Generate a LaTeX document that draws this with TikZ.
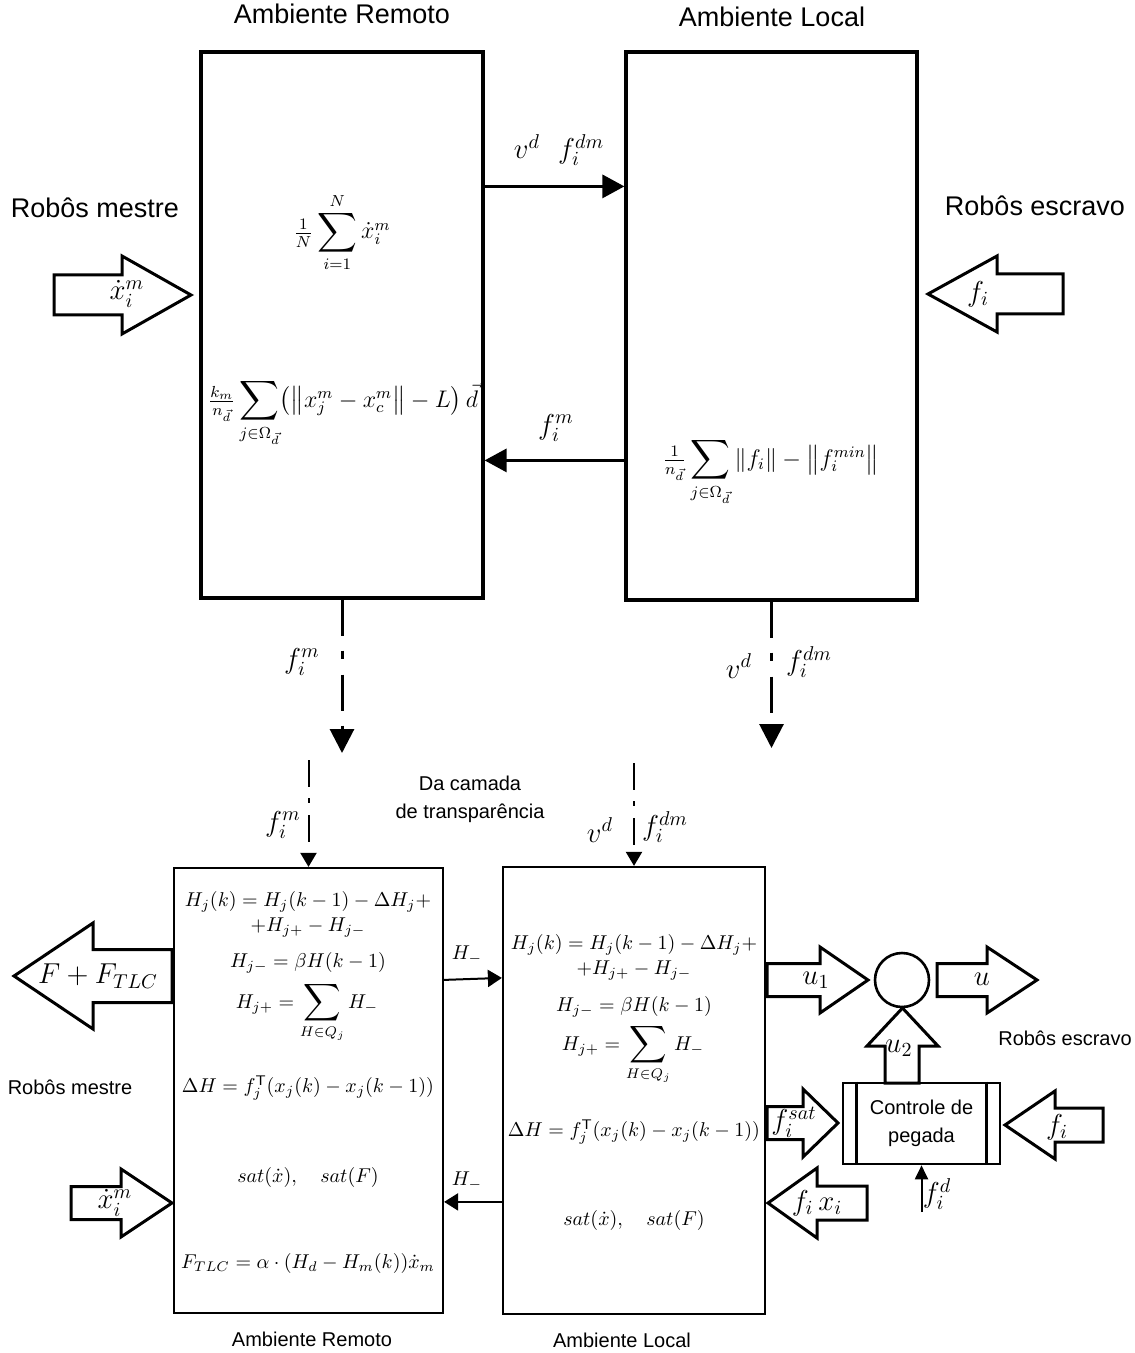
\documentclass[tikz,border=0pt]{standalone}
\usepackage[no-math]{fontspec}
\newfontfamily\arial{Liberation Sans}
\usepackage{amsmath}
\usepackage{graphicx}
\usetikzlibrary{arrows.meta,calc,fit}
\newcommand{\Bsum}{\mathop{\vcenter{\hbox{\scalebox{1.3}{$\displaystyle\sum$}}}}\limits}
\newcommand{\Tsum}{\mathop{\vcenter{\hbox{\scalebox{1.15}{$\displaystyle\sum$}}}}\limits}
\newcommand{\myblockarrow}[6]{\draw[blockar] ({#1},{#4-#5}) -- ({#2},{#4-#5}) -- ({#2},{#4-#6}) -- ({#3},{#4}) -- ({#2},{#4+#6}) -- ({#2},{#4+#5}) -- ({#1},{#4+#5}) -- cycle;}
\begin{document}
\begin{tikzpicture}[x=0.5pt,y=-0.5pt,
  topbox/.style={draw, line width=1.6pt, inner sep=0pt},
  botbox/.style={draw, line width=1.1pt, inner sep=0pt},
  bigtxt/.style={font=\arial\fontsize{13.5}{16}\selectfont, inner sep=0pt},
  smalltxt/.style={font=\arial\fontsize{10}{14}\selectfont, align=center, inner sep=0pt},
  mbig/.style={font=\fontsize{14.5}{17}\selectfont, inner sep=0pt},
  mlab/.style={font=\fontsize{14}{17}\selectfont, inner sep=0pt},
  mform/.style={font=\fontsize{10}{12.5}\selectfont, inner sep=0pt, align=center},
  mtop/.style={font=\fontsize{11.5}{14}\selectfont, inner sep=0pt, align=center},
  flowtop/.style={line width=1.6pt},
  flowbot/.style={line width=1pt},
  bigtip/.style={-{Triangle[length=11pt,width=11.5pt]}},
  smalltip/.style={-{Triangle[length=7pt,width=8.5pt]}},
  ddtop/.style={line width=1.5pt, dash pattern=on 18pt off 7.5pt on 4pt off 8pt, -{Triangle[length=12pt,width=12pt]}},
  ddbot/.style={line width=1pt, dash pattern=on 13.5pt off 5.5pt on 2.5pt off 6pt, -{Triangle[length=7pt,width=8pt]}},
  blockar/.style={draw, line width=1.5pt, line join=miter, fill=white},
]
\useasboundingbox (0,0) rectangle (1134,1353);

% ---------- top part ----------
\node[bigtxt] (tAR) at (342,14) {Ambiente Remoto};
\node[bigtxt] (tAL) at (772,17) {Ambiente Local};
\node[bigtxt] (tRM) at (95,208) {Robôs mestre};
\node[bigtxt] (tRE) at (1035,206) {Robôs escravo};

\node[topbox, fit={(201,52) (483,598)}] (tl) {};
\node[topbox, fit={(626,52) (917,600)}] (tr) {};

\node[mtop, anchor=base] (f1) at (342,239) {$\tfrac{1}{N}\Tsum_{i=1}^{N}\dot x_i^m$};
\node[mtop, anchor=base] (f2) at (343,407) {$\tfrac{k_m}{n_{\vec d}}\Tsum_{j\in\Omega_{\vec d}}\bigl(\bigl\|x_j^m - x_c^m\bigr\| - L\bigr)\,\vec d$};
\node[mtop, anchor=base] (f3) at (771,466) {$\tfrac{1}{n_{\vec d}}\Tsum_{j\in\Omega_{\vec d}}\|f_i\| - \bigl\|f_i^{min}\bigr\|$};

\draw[flowtop, bigtip] ($(tl.north east)+(0,136)$) -- ($(tr.north west)+(0,136)$);
\node[mlab] (l1) at (559,150) {$v^d\ \ f_i^{dm}$};
\draw[flowtop, bigtip] ($(tr.north west)+(0,410)$) -- ($(tl.north east)+(0,410)$);
\node[mlab] (l2) at (556,428) {$f_i^m$};

\myblockarrow{54}{122}{191}{295}{20}{39}
\node[mbig] (lx1) at (127,294) {$\dot x_i^m$};
\myblockarrow{1063}{997}{928}{294}{20}{38}
\node[mbig] (lf1) at (978,294) {$f_i$};

% ---------- transparency layer ----------
\coordinate (e1) at (342,753);
\coordinate (e2) at (771.5,748);
\draw[ddtop] (tl.south) -- (e1);
\draw[ddtop] (tr.south) -- (e2);
\node[mlab] (l3) at (302,662) {$f_i^m$};
\node[mlab] (l4) at (739,666) {$v^d$};
\node[mlab] (l5) at (809,662) {$f_i^{dm}$};

\node[smalltxt] (da) at (470,799) {Da camada\\de transparência};

% ---------- bottom part ----------
\node[botbox, fit={(174,868) (443,1313)}] (bl) {};
\node[botbox, fit={(503,867) (765,1314)}] (bm) {};

\coordinate (s1) at (308.5,760);
\coordinate (s2) at (634,763);
\draw[ddbot] (s1) -- (bl.north);
\draw[ddbot] (s2) -- (bm.north);
\node[mlab] (l6) at (283,825) {$f_i^m$};
\node[mlab] (l7) at (600,830) {$v^d$};
\node[mlab] (l8) at (665,827) {$f_i^{dm}$};

% left box formulas
\node[mform] (a1) at (308,914) {$H_j(k) = H_j(k-1) - \Delta H_j +$\\$+H_{j+} - H_{j-}$};
\node[mform] (a2) at (308,963) {$H_{j-} = \beta H(k-1)$};
\node[mform, anchor=base] (a3) at (307,1008) {$H_{j+} = \Bsum_{H\in Q_j} H_-$};
\node[mform] (a4) at (308,1088) {$\Delta H = f_j^{\mathsf{T}}(x_j(k) - x_j(k-1))$};
\node[mform] (a5) at (308,1177) {$sat(\dot x),\quad sat(F)$};
\node[mform] (a6) at (308,1263) {$F_{TLC} = \alpha\cdot(H_d - H_m(k))\dot x_m$};

% middle box formulas
\node[mform] (b1) at (634,957) {$H_j(k) = H_j(k-1) - \Delta H_j +$\\$+H_{j+} - H_{j-}$};
\node[mform] (b2) at (634,1007) {$H_{j-} = \beta H(k-1)$};
\node[mform, anchor=base] (b3) at (633,1050) {$H_{j+} = \Bsum_{H\in Q_j} H_-$};
\node[mform] (b4) at (634,1132) {$\Delta H = f_j^{\mathsf{T}}(x_j(k) - x_j(k-1))$};
\node[mform] (b5) at (634,1220) {$sat(\dot x),\quad sat(F)$};

\draw[flowbot, smalltip] ($(bl.north east)+(0,113)$) -- ($(bm.north west)+(0,112)$);
\node[mform] (h1) at (467,955) {$H_-$};
\draw[flowbot, smalltip] ($(bm.north west)+(0,336)$) -- ($(bl.north east)+(0,335)$);
\node[mform] (h2) at (467,1181) {$H_-$};

% left block arrows
\myblockarrow{172}{93}{14}{976}{26.5}{53}
\node[mbig] (lF) at (98,976) {$F + F_{TLC}$};
\myblockarrow{71}{121}{172}{1203}{16.5}{34}
\node[mbig] (lx2) at (115,1203) {$\dot x_i^m$};

\node[smalltxt] (bRM) at (70,1087) {Robôs mestre};
\node[smalltxt] (bAR) at (312,1339) {Ambiente Remoto};
\node[smalltxt] (bAL) at (622,1340) {Ambiente Local};
\node[smalltxt] (bRE) at (1065,1038) {Robôs escravo};

% right side
\node[circle, draw, line width=1.3pt, minimum size=27pt, inner sep=0pt] (sm) at (902,980) {};
\myblockarrow{767}{820}{868}{980}{16.5}{33}
\node[mbig] (lu1) at (816,980) {$u_1$};
\myblockarrow{937}{987}{1037}{980}{16.5}{33}
\node[mbig] (lu) at (982,979) {$u$};

\node[botbox, line width=1.3pt, fit={(843,1083) (1000,1164)}] (cp) {};
\draw[line width=1.3pt] ($(cp.north west)+(15,0)$) -- ($(cp.south west)+(15,0)$);
\draw[line width=1.3pt] ($(cp.north east)+(-15,0)$) -- ($(cp.south east)+(-15,0)$);
\node[smalltxt, font=\arial\fontsize{10}{14}\selectfont] (cpt) at (cp.center) {Controle de\\pegada};

\draw[blockar] (885,1083) -- (885,1046) -- (867,1046) -- (902.5,1008) -- (938,1046) -- (919,1046) -- (919,1083) -- cycle;
\node[mbig] (lu2) at (899,1048) {$u_2$};

\myblockarrow{767}{803}{838}{1123}{16.5}{34}
\node[mbig] (lfs) at (794,1122) {$f_i^{sat}$};
\myblockarrow{1103}{1055}{1005}{1125}{17}{34}
\node[mbig] (lfi) at (1057,1127) {$f_i$};
\myblockarrow{867}{817}{768}{1203}{17}{35}
\node[mbig] (lfx) at (817,1203) {$f_i\,x_i$};

\coordinate (fd) at (921.5,1212);
\draw[flowbot, -{Triangle[length=7pt,width=6.5pt]}] (fd) -- (cp.south);
\node[mlab] (lfd) at (937,1194) {$f_i^d$};
\end{tikzpicture}
\end{document}
